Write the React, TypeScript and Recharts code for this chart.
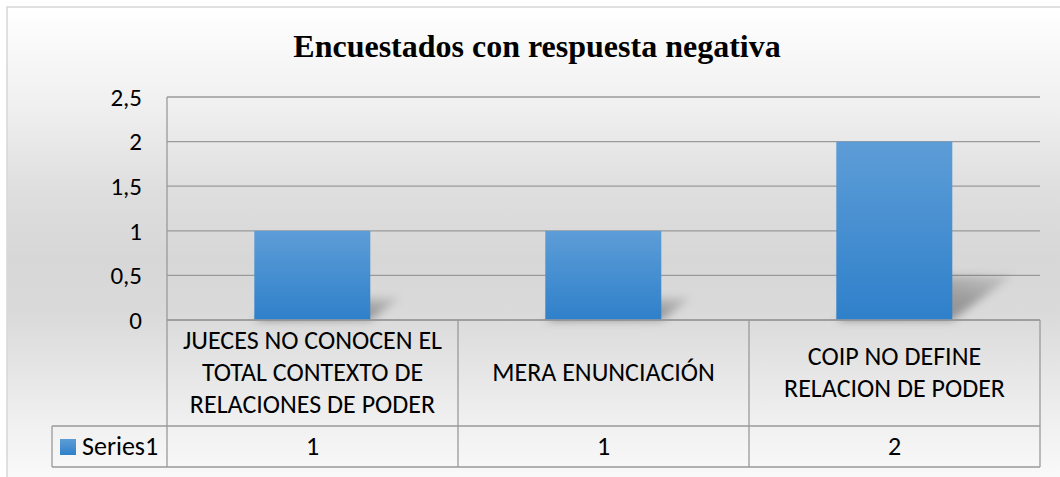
import React from "react";
import { BarChart, Bar, XAxis, YAxis, CartesianGrid } from "recharts";

// ---- data ----
const categories = [
  "JUECES NO CONOCEN EL TOTAL CONTEXTO DE RELACIONES DE PODER",
  "MERA ENUNCIACIÓN",
  "COIP NO DEFINE RELACION DE PODER",
];
const categoryLines = [
  ["JUECES NO CONOCEN EL", "TOTAL CONTEXTO DE", "RELACIONES DE PODER"],
  ["MERA ENUNCIACIÓN"],
  ["COIP NO DEFINE", "RELACION DE PODER"],
];
const series1 = [1, 1, 2];
const seriesName = "Series1";
const yTicks = [0, 0.5, 1, 1.5, 2, 2.5];
const title = "Encuestados con respuesta negativa";

const data = categories.map((name, i) => ({ name, Series1: series1[i] }));

// ---- layout ----
const W = 1060;
const H = 477;
const PLOT_LEFT = 167;
const PLOT_RIGHT = 1040;
const PLOT_TOP = 97;
const AXIS_H = 147;
const ROW1_H = 106;
const LINE_H = 32;
const SERIES_LEFT = 52;
const FONT = "Carlito, Calibri, Lato, sans-serif";
const TABLE_FS = 26;
const GRID = "#9a9a9a";

const fmt = (v: number) => String(v).replace(".", ",");

const TableTick = (props: any) => {
  const { x, y, payload } = props;
  const i = payload.index;
  const n = categories.length;
  const cellW = (PLOT_RIGHT - PLOT_LEFT) / n;
  const left = x - cellW / 2;
  const right = x + cellW / 2;
  const top = y;
  const rowDiv = top + ROW1_H;
  const bottom = top + AXIS_H;
  const lines = categoryLines[i] || [String(payload.value)];
  const mid = top + 61;
  const first = mid - ((lines.length - 1) * LINE_H) / 2;
  return (
    <g>
      {i === 0 && (
        <g>
          <line x1={left} y1={top} x2={left} y2={bottom} stroke={GRID} strokeWidth={1.3} />
          <line x1={SERIES_LEFT} y1={rowDiv} x2={left} y2={rowDiv} stroke={GRID} strokeWidth={1.3} />
          <line x1={SERIES_LEFT} y1={bottom} x2={left} y2={bottom} stroke={GRID} strokeWidth={1.3} />
          <line x1={SERIES_LEFT} y1={rowDiv} x2={SERIES_LEFT} y2={bottom} stroke={GRID} strokeWidth={1.3} />
          <rect x={SERIES_LEFT + 8} y={rowDiv + 13} width={16} height={16} fill="url(#barGrad)" />
          <text x={SERIES_LEFT + 30} y={rowDiv + 29} fontSize={TABLE_FS} fontFamily={FONT} fill="#000">
            {seriesName}
          </text>
        </g>
      )}
      <line x1={right} y1={top} x2={right} y2={bottom} stroke={GRID} strokeWidth={1.3} />
      <line x1={left} y1={rowDiv} x2={right} y2={rowDiv} stroke={GRID} strokeWidth={1.3} />
      <line x1={left} y1={bottom} x2={right} y2={bottom} stroke={GRID} strokeWidth={1.3} />
      <text x={x} textAnchor="middle" fontSize={TABLE_FS} fontFamily={FONT} fill="#000">
        {lines.map((l, k) => (
          <tspan key={k} x={x} y={first + k * LINE_H}>
            {l}
          </tspan>
        ))}
      </text>
      <text x={x} y={rowDiv + 29} textAnchor="middle" fontSize={TABLE_FS} fontFamily={FONT} fill="#000">
        {series1[i]}
      </text>
    </g>
  );
};

const ShadowBar = (props: any) => {
  const { x, y, width, height } = props;
  if (!height || height <= 0) return null;
  const bottom = y + height;
  const sh = height * 0.25;
  const skew = height * 0.34;
  const pts = `${x},${bottom} ${x + width},${bottom} ${x + width + skew},${bottom - sh} ${x + skew},${bottom - sh}`;
  return (
    <g>
      <polygon points={pts} fill="url(#shGrad)" filter="url(#shBlur)" />
      <rect x={x} y={y} width={width} height={height} fill="url(#barGrad)" />
    </g>
  );
};

export default function App() {
  return (
    <div style={{ position: "absolute", left: 0, top: 0, width: W, height: H, overflow: "hidden" }}>
      <svg width={W} height={H} style={{ position: "absolute", left: 0, top: 0 }}>
        <defs>
          <linearGradient id="bgGrad" x1="0" y1="0" x2="0" y2="1">
            <stop offset="0%" stopColor="#ffffff" />
            <stop offset="21%" stopColor="#efefef" />
            <stop offset="38%" stopColor="#dedede" />
            <stop offset="52%" stopColor="#d7d7d7" />
            <stop offset="63%" stopColor="#dadada" />
            <stop offset="84%" stopColor="#efefef" />
            <stop offset="100%" stopColor="#fcfcfc" />
          </linearGradient>
        </defs>
        <rect x={7} y={7} width={W + 10} height={H + 10} fill="url(#bgGrad)" stroke="#d9d9d9" strokeWidth={1.6} />
        <text
          x={537}
          y={57}
          textAnchor="middle"
          fontFamily="'Liberation Serif', 'Times New Roman', serif"
          fontWeight="bold"
          fontSize={32}
          fill="#000"
        >
          {title}
        </text>
      </svg>
      <div style={{ position: "absolute", left: 0, top: 0 }}>
        <BarChart
          width={W}
          height={H}
          data={data}
          margin={{ top: PLOT_TOP, right: W - PLOT_RIGHT, bottom: H - PLOT_TOP - 223 - AXIS_H, left: 0 }}
          barCategoryGap="30%"
        >
          <defs>
            <linearGradient id="barGrad" x1="0" y1="0" x2="0" y2="1">
              <stop offset="0%" stopColor="#5d9dd7" />
              <stop offset="100%" stopColor="#2f80ca" />
            </linearGradient>
            <linearGradient id="shGrad" x1="0" y1="1" x2="1" y2="0">
              <stop offset="0%" stopColor="#000" stopOpacity={0.42} />
              <stop offset="60%" stopColor="#000" stopOpacity={0.28} />
              <stop offset="100%" stopColor="#000" stopOpacity={0.08} />
            </linearGradient>
            <filter id="shBlur" x="-50%" y="-80%" width="200%" height="260%">
              <feGaussianBlur stdDeviation="4.5" />
            </filter>
          </defs>
          <CartesianGrid horizontal vertical={false} stroke={GRID} strokeWidth={1.3} />
          <YAxis
            type="number"
            domain={[0, 2.5]}
            ticks={yTicks}
            width={PLOT_LEFT}
            axisLine={{ stroke: GRID, strokeWidth: 1.3 }}
            tickLine={false}
            tickSize={0}
            tickMargin={25}
            tickFormatter={fmt}
            tick={{ fill: "#000", fontSize: 25, fontFamily: FONT }}
          />
          <XAxis
            dataKey="name"
            height={AXIS_H}
            interval={0}
            tickLine={false}
            tickSize={0}
            tickMargin={0}
            axisLine={{ stroke: GRID, strokeWidth: 1.3 }}
            tick={<TableTick />}
          />
          <Bar dataKey="Series1" isAnimationActive={false} shape={<ShadowBar />} />
        </BarChart>
      </div>
    </div>
  );
}
